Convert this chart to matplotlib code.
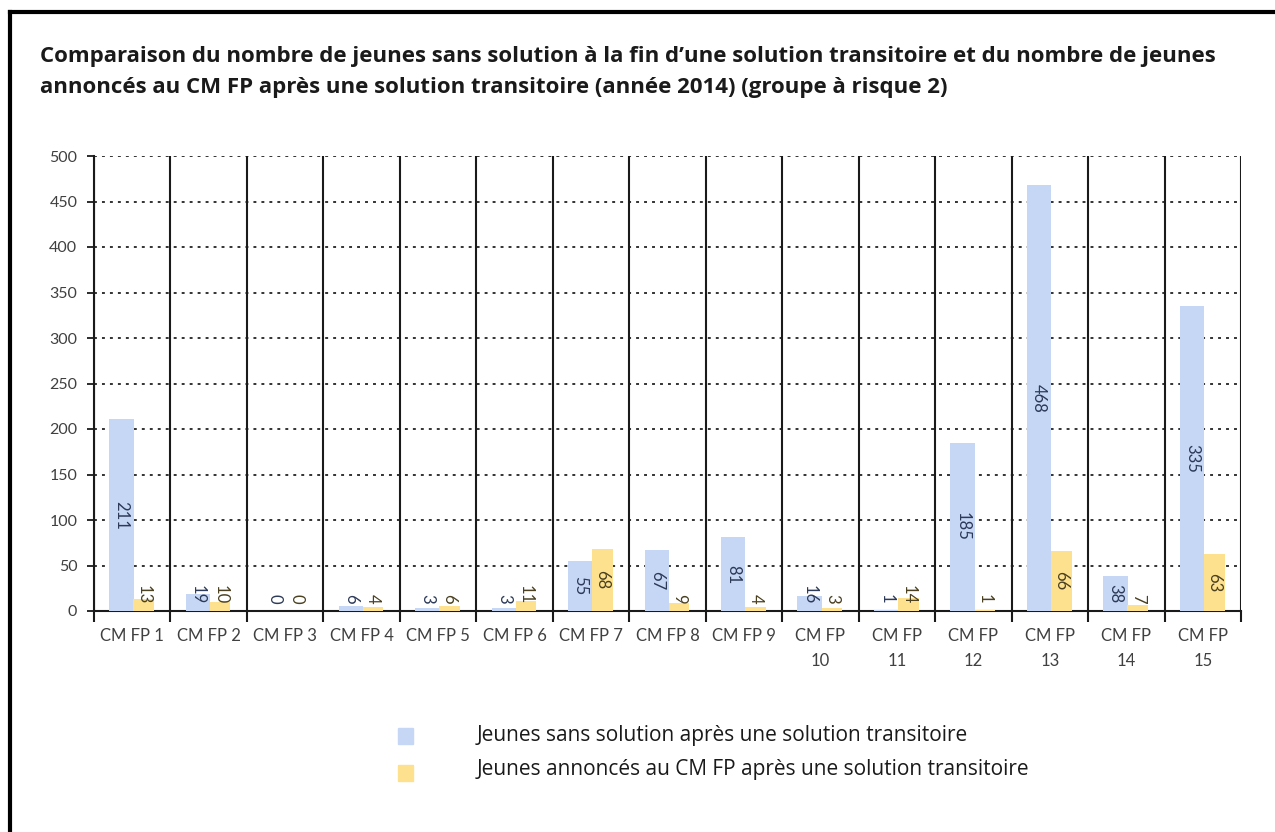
import matplotlib
matplotlib.use("Agg")
import matplotlib.pyplot as plt
from matplotlib.patches import Rectangle
from matplotlib.lines import Line2D
import numpy as np

categories = ["CM FP 1", "CM FP 2", "CM FP 3", "CM FP 4", "CM FP 5", "CM FP 6",
              "CM FP 7", "CM FP 8", "CM FP 9", "CM FP\n10", "CM FP\n11", "CM FP\n12",
              "CM FP\n13", "CM FP\n14", "CM FP\n15"]
sans_solution = [211, 19, 0, 6, 3, 3, 55, 67, 81, 16, 1, 185, 468, 38, 335]
annonces = [13, 10, 0, 4, 6, 11, 68, 9, 4, 3, 14, 1, 66, 7, 63]
series_names = ["Jeunes sans solution après une solution transitoire",
                "Jeunes annoncés au CM FP après une solution transitoire"]
title_lines = ["Comparaison du nombre de jeunes sans solution à la fin d\u2019une solution transitoire et du nombre de jeunes",
               "annoncés au CM FP après une solution transitoire (année 2014) (groupe à risque 2)"]
y_ticks = list(range(0, 501, 50))

plt.rcParams['font.family'] = ['Lato', 'DejaVu Sans']

W, H = 1275, 832
fig = plt.figure(figsize=(W / 100, H / 100), dpi=100)
fig.patch.set_facecolor('white')

# outer frame (left and top visible)
fig.add_artist(Line2D([10 / W, 10 / W], [0, 1 - 12 / H], color='black', lw=3, transform=fig.transFigure))
fig.add_artist(Line2D([10 / W, 1], [1 - 12 / H, 1 - 12 / H], color='black', lw=3, transform=fig.transFigure))

for i, line in enumerate(title_lines):
    fig.text(40 / W, 1 - (62 + 31 * i) / H, line, fontsize=16, fontweight='bold', color='#1a1a1a',
             ha='left', va='baseline', family=['Open Sans', 'DejaVu Sans'])

left, right, bottom, top = 94, 1241, 611, 156
ax = fig.add_axes([left / W, 1 - bottom / H, (right - left) / W, (bottom - top) / H])
px_per_unit = (bottom - top) / 500.0

blue = '#c6d6f5'
yellow = '#fde18e'
n = len(categories)
x = np.arange(n)
bw_b = 0.32
bw_y = 0.27
xb = x - 0.30 + bw_b / 2
xy = x + 0.015 + bw_y / 2
ax.bar(xb, sans_solution, width=bw_b, color=blue, zorder=3)
ax.bar(xy, annonces, width=bw_y, color=yellow, zorder=3)

lab_fs = 12
digit_px = 0.58 * lab_fs * 100 / 72


def label_pos(v):
    half = len(str(v)) * digit_px / 2
    return max(v / 2.0, (half + 7) / px_per_unit)


for xi, v in zip(xb, sans_solution):
    ax.text(xi, label_pos(v), str(v), rotation=-90, ha='center', va='center',
            fontsize=lab_fs, color='#2c3a58', zorder=4)
for xi, v in zip(xy, annonces):
    ax.text(xi, label_pos(v), str(v), rotation=-90, ha='center', va='center',
            fontsize=lab_fs, color='#4a4020', zorder=4)

ax.set_xlim(-0.5, n - 0.5)
ax.set_ylim(0, 500)

# horizontal dotted gridlines
for yv in y_ticks[1:]:
    ax.axhline(yv, color='#333333', lw=1.4, ls=(0, (1.5, 2.6)), zorder=1)
# vertical solid separators
for b in np.arange(-0.5, n, 1.0):
    ax.axvline(b, color='#1a1a1a', lw=1.5, zorder=2)

for s in ['top', 'right']:
    ax.spines[s].set_visible(False)
ax.spines['left'].set_linewidth(1.5)
ax.spines['bottom'].set_linewidth(1.5)
ax.spines['left'].set_color('#1a1a1a')
ax.spines['bottom'].set_color('#1a1a1a')

ax.set_yticks(y_ticks)
ax.set_yticklabels([str(t) for t in y_ticks], fontsize=11.5, color='#404040')
ax.tick_params(axis='y', length=5, width=1.3, pad=7, color='#1a1a1a')

ax.set_xticks(np.arange(-0.5, n, 1.0))
ax.set_xticklabels([])
ax.tick_params(axis='x', which='major', length=8, width=1.5, color='#1a1a1a')
ax.set_xticks(x, minor=True)
ax.set_xticklabels(categories, minor=True, fontsize=12, color='#404040', linespacing=1.75)
ax.tick_params(axis='x', which='minor', length=0, pad=12)

# legend (manual)
sq_centers = [736, 773]
txt_centers = [736, 770]
for name, col, sc, tc in zip(series_names, [blue, yellow], sq_centers, txt_centers):
    fig.add_artist(Rectangle((398 / W, 1 - (sc + 8) / H), 15 / W, 16 / H, color=col,
                             transform=fig.transFigure))
    fig.text(477 / W, 1 - tc / H, name, fontsize=15, color='#1a1a1a', ha='left', va='center',
             family=['Open Sans', 'DejaVu Sans'])

fig.savefig('out.png', dpi=100, facecolor='white')
